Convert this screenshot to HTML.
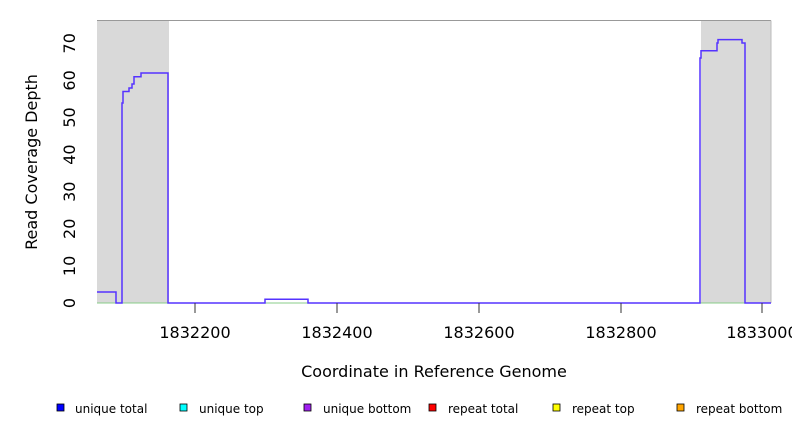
<!DOCTYPE html><html><head><style>body{margin:0;background:#fff}svg{display:block;font-family:"DejaVu Sans","Liberation Sans",sans-serif}</style></head><body>
<svg width="792" height="432" viewBox="0 0 792 432">
<rect x="97" y="20.5" width="72" height="282.5" fill="#d9d9d9"/>
<rect x="701" y="20.5" width="70" height="282.5" fill="#d9d9d9"/>
<line x1="97" y1="20.5" x2="771" y2="20.5" stroke="#999" stroke-width="1"/>
<line x1="771" y1="20.5" x2="771" y2="303" stroke="#bbb" stroke-width="1"/>
<line x1="97" y1="303" x2="771" y2="303" stroke="#8c8" stroke-width="1"/>
<polyline fill="none" stroke="#5533ff" stroke-width="1.5" points="97,292 116,292 116,303 122,303 122,103 123,103 123,91.5 129,91.5 129,88 132,88 132,84 134,84 134,76.7 141,76.7 141,73 168,73 168,303 265,303 265,299.3 308,299.3 308,303 700,303 700,58 701,58 701,50.7 717,50.7 717,43 718,43 718,39.6 742,39.6 742,43 745,43 745,303 771,303"/>
<g stroke="#333" stroke-width="1">
<line x1="195" y1="303" x2="195" y2="313"/><line x1="337" y1="303" x2="337" y2="313"/><line x1="479" y1="303" x2="479" y2="313"/><line x1="621" y1="303" x2="621" y2="313"/><line x1="762" y1="303" x2="762" y2="313"/>
</g>
<g font-size="16" text-anchor="middle" fill="#000">
<text x="195" y="338">1832200</text><text x="337" y="338">1832400</text><text x="479" y="338">1832600</text><text x="621" y="338">1832800</text><text x="762" y="338">1833000</text>
<text x="434" y="377">Coordinate in Reference Genome</text>
</g>
<g font-size="16" text-anchor="middle">
<text transform="translate(75,303) rotate(-90)">0</text>
<text transform="translate(75,265.9) rotate(-90)">10</text>
<text transform="translate(75,228.8) rotate(-90)">20</text>
<text transform="translate(75,191.7) rotate(-90)">30</text>
<text transform="translate(75,154.6) rotate(-90)">40</text>
<text transform="translate(75,117.5) rotate(-90)">50</text>
<text transform="translate(75,80.4) rotate(-90)">60</text>
<text transform="translate(75,43.3) rotate(-90)">70</text>
<text transform="translate(37,162) rotate(-90)">Read Coverage Depth</text>
</g>
<g font-size="12" stroke-width="0.8">
<rect x="57" y="404" width="7" height="7" fill="#0000ff" stroke="#000"/><text x="75" y="413">unique total</text>
<rect x="180" y="404" width="7" height="7" fill="#00ffff" stroke="#000"/><text x="199" y="413">unique top</text>
<rect x="304" y="404" width="7" height="7" fill="#a020f0" stroke="#000"/><text x="323" y="413">unique bottom</text>
<rect x="429" y="404" width="7" height="7" fill="#ff0000" stroke="#000"/><text x="448" y="413">repeat total</text>
<rect x="553" y="404" width="7" height="7" fill="#ffff00" stroke="#000"/><text x="572" y="413">repeat top</text>
<rect x="677" y="404" width="7" height="7" fill="#ffa500" stroke="#000"/><text x="696" y="413">repeat bottom</text>
</g>
</svg></body></html>
